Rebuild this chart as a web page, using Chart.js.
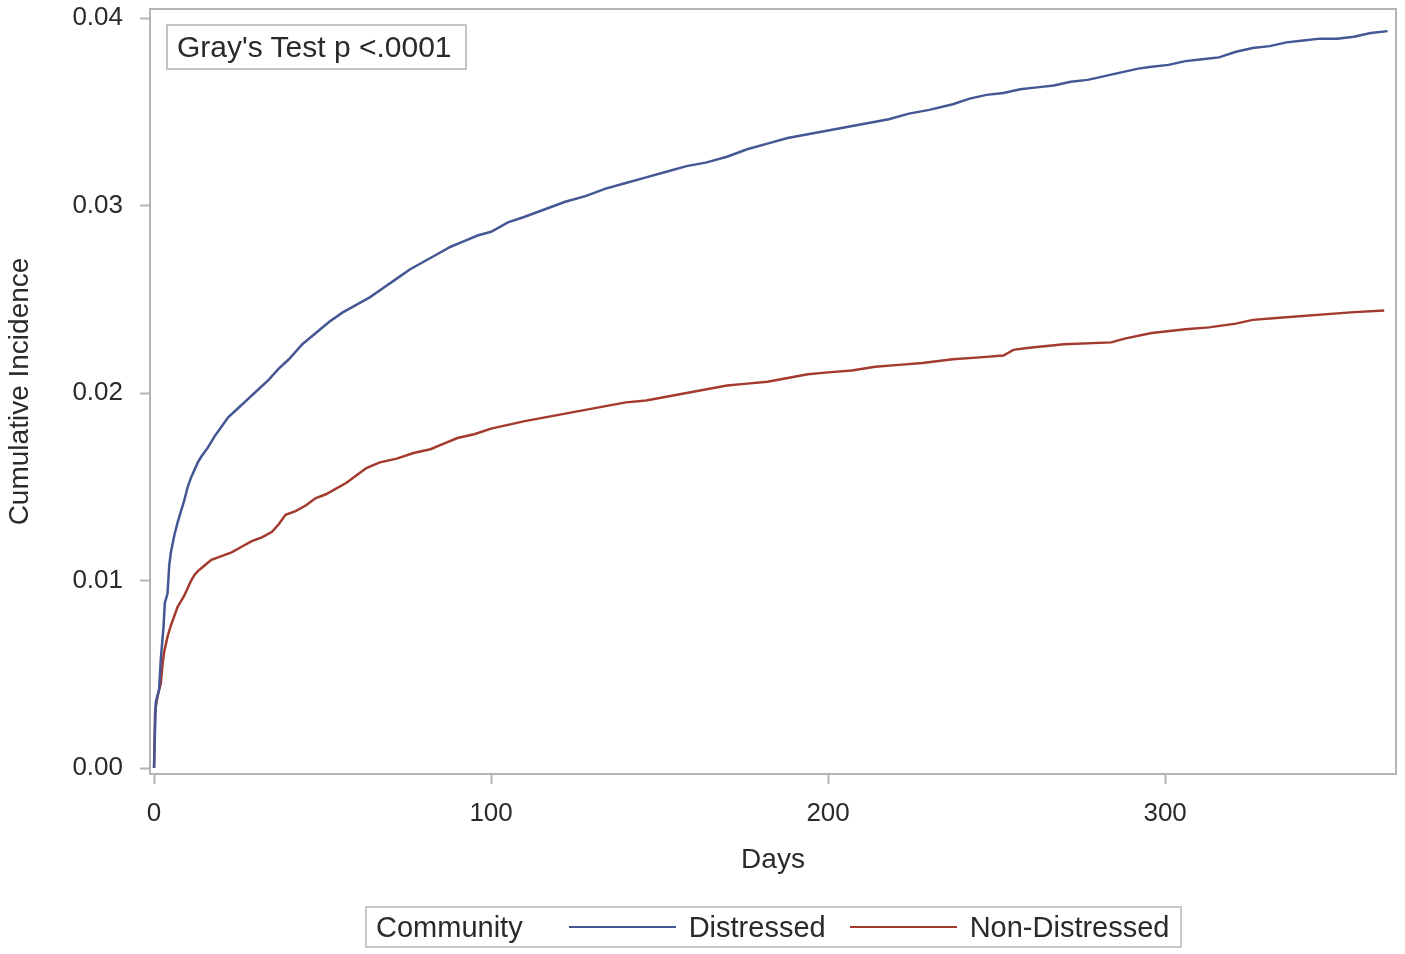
<!DOCTYPE html>
<html>
<head>
<meta charset="utf-8">
<title>Cumulative Incidence by Community</title>
<script src="https://cdn.jsdelivr.net/npm/chart.js@4.4.1/dist/chart.umd.min.js"></script>
<style>
  html, body { margin: 0; padding: 0; background: #fff; }
  #wrap { position: relative; width: 1405px; height: 954px; font-family: "Liberation Sans", Arial, sans-serif; color: #2a2a2a; }
  #inset { position: absolute; left: 166px; top: 24px; width: 288px; height: 42px; border: 2px solid #c4c4c4;
           font-size: 30px; line-height: 42px; padding-left: 9px; box-sizing: content-box; white-space: nowrap; }
  #legend { position: absolute; left: 365px; top: 906px; width: 813px; height: 38px; border: 2px solid #c8c8c8;
            display: flex; align-items: center; font-size: 29px; white-space: nowrap; overflow: hidden; }
  #legend span { flex-shrink: 0; }
  #legend .title { margin-left: 9px; margin-right: 46px; }
  #legend .swatch { width: 107px; height: 2px; margin-right: 13px; }
  #legend .item { margin-right: 24px; }
</style>
</head>
<body>
<div id="wrap">
  <canvas id="cif"></canvas>
  <div id="inset">Gray's Test p &lt;.0001</div>
  <div id="legend"></div>
</div>
<script>
// values
const xTicks = [0, 100, 200, 300];
const yTicks = [0, 0.01, 0.02, 0.03, 0.04];

const distressedDays = [0, 0.5, 1.5, 2, 2.8, 3.2, 4, 4.5, 5, 6, 7, 8, 9, 10, 11, 12, 13, 14, 16, 18, 20, 22, 25, 28, 31, 34, 37, 40,
  44, 48, 52, 56, 60, 64, 68, 72, 76, 80, 84, 88, 92, 96, 100, 105, 110, 116, 122, 128, 134, 140, 146, 152, 158, 164, 170,
  176, 182, 188, 194, 200, 206, 212, 218, 224, 230, 237, 242, 247, 252, 257, 262, 267, 272, 277, 282, 287, 292, 296, 301,
  306, 311, 316, 321, 326, 331, 336, 341, 346, 351, 356, 361, 366];
const distressedCI = [0, 0.0035, 0.0042, 0.0058, 0.0075, 0.0088, 0.0093, 0.0108, 0.0115, 0.0124, 0.0131, 0.0137, 0.0143, 0.0150,
  0.0155, 0.0159, 0.0163, 0.0166, 0.0171, 0.0177, 0.0182, 0.0187, 0.0192, 0.0197, 0.0202, 0.0207, 0.0213, 0.0218,
  0.0226, 0.0232, 0.0238, 0.0243, 0.0247, 0.0251, 0.0256, 0.0261, 0.0266, 0.0270, 0.0274, 0.0278, 0.0281, 0.0284, 0.0286,
  0.0291, 0.0294, 0.0298, 0.0302, 0.0305, 0.0309, 0.0312, 0.0315, 0.0318, 0.0321, 0.0323, 0.0326, 0.0330, 0.0333, 0.0336,
  0.0338, 0.0340, 0.0342, 0.0344, 0.0346, 0.0349, 0.0351, 0.0354, 0.0357, 0.0359, 0.0360, 0.0362, 0.0363, 0.0364, 0.0366,
  0.0367, 0.0369, 0.0371, 0.0373, 0.0374, 0.0375, 0.0377, 0.0378, 0.0379, 0.0382, 0.0384, 0.0385, 0.0387, 0.0388, 0.0389,
  0.0389, 0.0390, 0.0392, 0.0393];

const nonDistressedDays = [0, 0.3, 1, 2, 2.5, 3, 4, 5, 6, 7, 8, 9, 10, 11, 12, 13, 15, 17, 20, 23, 26, 29, 32, 35, 37, 39, 42, 45,
  48, 51, 54, 57, 60, 63, 67, 72, 77, 82, 86, 90, 95, 100, 105, 110, 116, 122, 128, 134, 140, 146, 152, 158, 164, 170, 176,
  182, 188, 194, 200, 207, 214, 221, 228, 237, 245, 252, 255, 259, 270, 284, 288, 296, 306, 313, 321, 326, 333, 355, 365];
const nonDistressedCI = [0, 0.0030, 0.0038, 0.0045, 0.0055, 0.0062, 0.0070, 0.0076, 0.0081, 0.0086, 0.0089, 0.0092, 0.0096,
  0.0100, 0.0103, 0.0105, 0.0108, 0.0111, 0.0113, 0.0115, 0.0118, 0.0121, 0.0123, 0.0126, 0.0130, 0.0135, 0.0137, 0.0140,
  0.0144, 0.0146, 0.0149, 0.0152, 0.0156, 0.0160, 0.0163, 0.0165, 0.0168, 0.0170, 0.0173, 0.0176, 0.0178, 0.0181, 0.0183,
  0.0185, 0.0187, 0.0189, 0.0191, 0.0193, 0.0195, 0.0196, 0.0198, 0.0200, 0.0202, 0.0204, 0.0205, 0.0206, 0.0208, 0.0210,
  0.0211, 0.0212, 0.0214, 0.0215, 0.0216, 0.0218, 0.0219, 0.0220, 0.0223, 0.0224, 0.0226, 0.0227, 0.0229, 0.0232, 0.0234,
  0.0235, 0.0237, 0.0239, 0.0240, 0.0243, 0.0244];

const toPoints = (xs, ys) => xs.map((x, i) => ({ x: x, y: ys[i] }));

const FRAME = '#b3b3b3';
const TEXT = '#2a2a2a';

// frame around the whole plot area (top and right sides too)
const framePlugin = {
  id: 'frame',
  afterDraw(chart) {
    const { ctx, chartArea: a } = chart;
    ctx.save();
    ctx.strokeStyle = FRAME;
    ctx.lineWidth = 2;
    ctx.strokeRect(a.left, a.top, a.right - a.left, a.bottom - a.top);
    ctx.restore();
  }
};

Chart.defaults.font.family = '"Liberation Sans", Arial, sans-serif';
Chart.defaults.color = TEXT;

const chart = new Chart(document.getElementById('cif'), {
  type: 'line',
  data: {
    datasets: [
      { label: 'Distressed', data: toPoints(distressedDays, distressedCI), borderColor: '#445694' },
      { label: 'Non-Distressed', data: toPoints(nonDistressedDays, nonDistressedCI), borderColor: '#A23A2E' }
    ]
  },
  options: {
    responsive: true,
    maintainAspectRatio: false,
    animation: false,
    layout: { padding: { left: 0, top: 9, right: 9, bottom: 70 } },
    elements: {
      line: { borderWidth: 2.5, tension: 0 },
      point: { radius: 0, hoverRadius: 0 }
    },
    plugins: {
      legend: { display: false },
      tooltip: { enabled: false }
    },
    scales: {
      x: {
        type: 'linear',
        min: -1.2,
        max: 368.5,
        afterBuildTicks: s => { s.ticks = xTicks.map(v => ({ value: v })); },
        afterFit: s => { s.height = 110; s.paddingLeft = 0; s.paddingRight = 0; },
        grid: { drawOnChartArea: false, drawTicks: true, tickLength: 10, tickWidth: 2, tickColor: FRAME },
        border: { display: false },
        ticks: { font: { size: 26 }, padding: 14, maxRotation: 0, callback: v => String(v) },
        title: { display: true, text: 'Days', font: { size: 28 }, padding: { top: 0, bottom: 7 } }
      },
      y: {
        type: 'linear',
        min: -0.00032,
        max: 0.04048,
        afterBuildTicks: s => { s.ticks = yTicks.map(v => ({ value: v })); },
        afterFit: s => { s.width = 150; s.paddingTop = 0; s.paddingBottom = 0; },
        grid: { drawOnChartArea: false, drawTicks: true, tickLength: 10, tickWidth: 2, tickColor: FRAME },
        border: { display: false },
        ticks: { font: { size: 26 }, padding: 17, callback: v => v.toFixed(2) },
        title: { display: true, text: 'Cumulative Incidence', font: { size: 28 }, padding: { top: 3, bottom: 0 } }
      }
    }
  },
  plugins: [framePlugin]
});

// legend built from the chart's own datasets
const legend = document.getElementById('legend');
legend.innerHTML = '<span class="title">Community</span>' +
  chart.data.datasets.map(d =>
    '<span class="swatch" style="background:' + d.borderColor + '"></span><span class="item">' + d.label + '</span>'
  ).join('');
</script>
</body>
</html>
